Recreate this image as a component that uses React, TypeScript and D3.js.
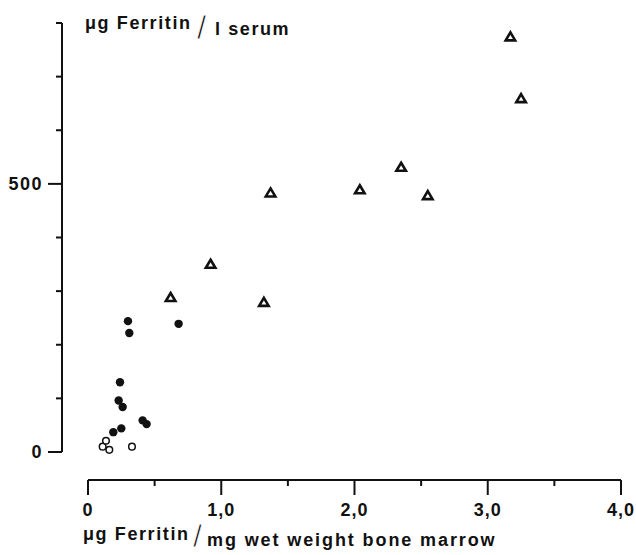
import React from "react";
import * as d3 from "d3";

// Triangles (group 3)
const triX = [3.17, 3.25, 2.35, 2.04, 2.55, 1.37, 0.92, 0.62, 1.32];
const triY = [775, 660, 532, 490, 479, 484, 351, 289, 280];
// Filled circles
const dotX = [0.30, 0.31, 0.68, 0.24, 0.23, 0.26, 0.41, 0.44, 0.25, 0.19];
const dotY = [244, 222, 239, 130, 96, 84, 59, 52, 44, 37];
// Open circles
const openX = [0.11, 0.135, 0.16, 0.33];
const openY = [10, 21, 4, 10];

const xTicks = [0, 0.5, 1, 1.5, 2, 2.5, 3, 3.5, 4];
const xTickLabels = ["0", "1,0", "2,0", "3,0", "4,0"];
const xLabelValues = [0, 1, 2, 3, 4];
const yTicks = [0, 100, 200, 300, 400, 500, 600, 700, 800];
const yLabelValues = [0, 500];
const yTickLabels = ["0", "500"];

const FONT = "'Liberation Sans', Arial, Helvetica, sans-serif";

export default function App() {
  const x = d3.scaleLinear().domain([0, 4]).range([88, 621]);
  const y = d3.scaleLinear().domain([0, 800]).range([452, 23]);
  const axisY = 480;
  const axisX = 62;

  const triPath = (cx: number, cy: number) => {
    const w = 9.5, h = 8;
    return `M${cx},${cy - h / 2}L${cx + w / 2},${cy + h / 2}L${cx - w / 2},${cy + h / 2}Z`;
  };

  return (
    <svg width={636} height={555} style={{ position: "absolute", left: 0, top: 0, background: "#fff" }}
      fontFamily={FONT}>
      <rect x={0} y={0} width={636} height={555} fill="#fff" />
      {/* Y axis */}
      <line x1={axisX} x2={axisX} y1={y(800)} y2={y(0)} stroke="#111" strokeWidth={2} />
      {yTicks.map((t) => {
        const major = yLabelValues.includes(t);
        return (
          <line key={"yt" + t} x1={axisX - (major ? 14 : 6)} x2={axisX} y1={y(t)} y2={y(t)}
            stroke="#111" strokeWidth={2} />
        );
      })}
      {yLabelValues.map((v, i) => (
        <text key={"yl" + v} x={43} y={y(v)} dy="0.36em" textAnchor="end" fontSize={18}
          fontWeight="bold" letterSpacing={1.5} fill="#111">{yTickLabels[i]}</text>
      ))}
      {/* X axis */}
      <line x1={x(0)} x2={x(4)} y1={axisY} y2={axisY} stroke="#111" strokeWidth={2} />
      {xTicks.map((t) => {
        const major = Number.isInteger(t);
        return (
          <line key={"xt" + t} x1={x(t)} x2={x(t)} y1={axisY} y2={axisY + (major ? 15 : 6)}
            stroke="#111" strokeWidth={2} />
        );
      })}
      {xLabelValues.map((v, i) => (
        <text key={"xl" + v} x={x(v)} y={516} textAnchor="middle" fontSize={18}
          fontWeight="bold" letterSpacing={1} fill="#111">{xTickLabels[i]}</text>
      ))}
      {/* Y axis title */}
      <text x={85} y={29} fontSize={18} fontWeight="bold" letterSpacing={1.6} fill="#111">μg Ferritin</text>
      <text x={197} y={39} fontSize={33} fontWeight="normal" fill="#111" stroke="#fff" strokeWidth={0.9}>/</text>
      <text x={215} y={35} fontSize={18} fontWeight="bold" letterSpacing={1.6} fill="#111">l serum</text>
      {/* X axis title */}
      <text x={83} y={540} fontSize={18} fontWeight="bold" letterSpacing={1.6} fill="#111">μg Ferritin</text>
      <text x={193} y={547} fontSize={32} fontWeight="normal" fill="#111" stroke="#fff" strokeWidth={0.9}>/</text>
      <text x={207} y={546} fontSize={18} fontWeight="bold" letterSpacing={1.9} fill="#111">mg wet weight bone marrow</text>
      {/* Points */}
      {triX.map((v, i) => (
        <path key={"tr" + i} d={triPath(x(v), y(triY[i]))} fill="#fff" stroke="#111" strokeWidth={2.6}
          strokeLinejoin="miter" />
      ))}
      {dotX.map((v, i) => (
        <circle key={"dt" + i} cx={x(v)} cy={y(dotY[i])} r={4.2} fill="#111" />
      ))}
      {openX.map((v, i) => (
        <circle key={"op" + i} cx={x(v)} cy={y(openY[i])} r={3.3} fill="#fff" stroke="#111" strokeWidth={1.5} />
      ))}
    </svg>
  );
}
